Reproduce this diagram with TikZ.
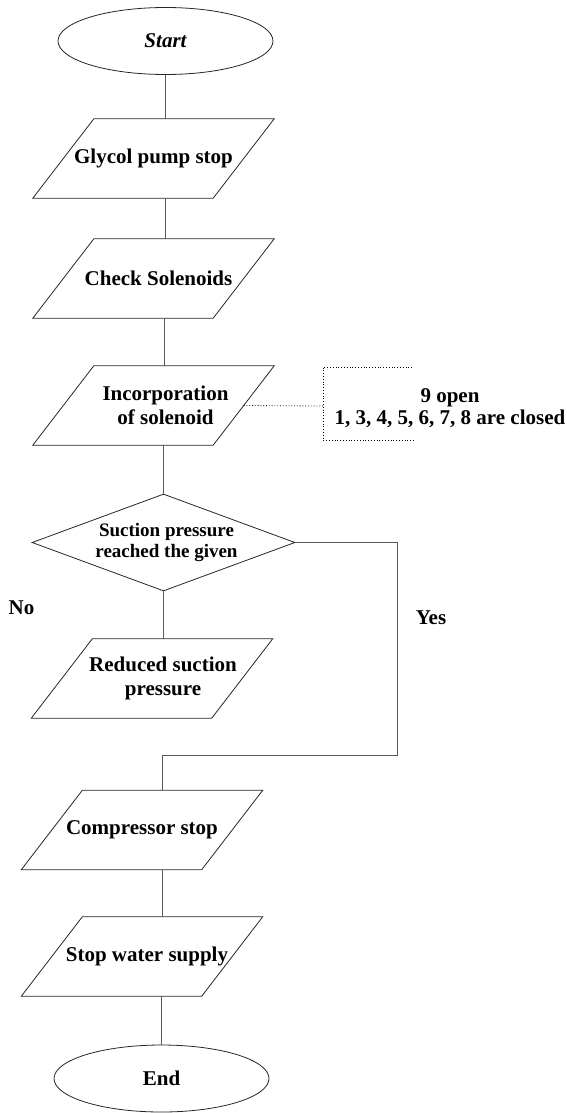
\documentclass[tikz,border=0pt]{standalone}
\usepackage{fontspec}
\setmainfont{Liberation Serif}
\usetikzlibrary{shapes.geometric}
\begin{document}
\begin{tikzpicture}[x=1pt,y=-1pt,
  shapeline/.style={draw=black!85, line width=0.8pt},
  io/.style={rectangle, draw=none, minimum width=180pt, minimum height=79pt, inner sep=0pt},
  term/.style={shapeline, ellipse, minimum width=215pt, minimum height=67pt, inner sep=0pt,
    font=\fontsize{21}{24}\selectfont\bfseries},
  decision/.style={shapeline, diamond, minimum width=263pt, minimum height=97pt, inner sep=0.5pt},
  iotext/.style={font=\fontsize{21}{24}\selectfont\bfseries, align=center, inner sep=0pt},
  dectext/.style={font=\fontsize{19}{21}\selectfont\bfseries, align=center, inner sep=0pt},
  notetext/.style={font=\fontsize{21}{22}\selectfont\bfseries, align=center, inner sep=0pt},
  lbl/.style={font=\fontsize{21}{24}\selectfont\bfseries, inner sep=0pt},
  conn/.style={draw=black!65, line width=1pt},
  notedash/.style={dotted, line width=0.8pt, draw=black}
]
\useasboundingbox (0,0) rectangle (567,1113);

\node[term] (start) at (165.5,41) {\itshape Start};
\node[io, label={[iotext]center:{Glycol pump stop}}] (g) at (153.5,158.5) {};
\node[io, label={[iotext,xshift=5pt]center:{Check Solenoids}}] (c) at (153.5,278.5) {};
\node[io, label={[iotext,xshift=12pt]center:{Incorporation\\of solenoid}}] (inc) at (153.5,405.5) {};
\node[decision, label={[dectext,xshift=3pt]center:{Suction pressure\\reached the given}}] (d) at (163.5,542.5) {};
\node[io, label={[iotext,xshift=11pt]center:{Reduced suction\\pressure}}] (r) at (152,678.5) {};
\node[io, label={[iotext]center:{Compressor stop}}] (comp) at (142,830) {};
\node[io, label={[iotext,xshift=5pt]center:{Stop water supply}}] (w) at (142,956.5) {};
\node[term] (end) at (161.5,1078.5) {End};

% parallelogram outlines of the io nodes
\foreach \n in {g,c,inc,r,comp,w}
  \draw[shapeline] ([xshift=30.5pt]\n.north west) -- ([xshift=30.5pt]\n.north east)
    -- ([xshift=-30.5pt]\n.south east) -- ([xshift=-30.5pt]\n.south west) -- cycle;

\node[lbl] (no) at (21.5,608) {No};
\node[lbl] (yes) at (431,618) {Yes};
\node[notetext] (note) at (450,408.5) {9 open\\1, 3, 4, 5, 6, 7, 8 are closed};

% connectors
\draw[conn] (start.south) -- (start.south |- g.north);
\draw[conn] ([xshift=11.5pt]g.south) -- ([xshift=11.5pt]c.north);
\draw[conn] ([xshift=10.5pt]c.south) -- ([xshift=10.5pt]inc.north);
\draw[conn] (d.north |- inc.south) -- (d.north);
\draw[conn] (d.south) -- (d.south |- r.north);
\coordinate (ycorner) at (397,755);
\draw[conn] (d.east) -| (ycorner) -| ([xshift=20pt]comp.north);
\draw[conn] ([xshift=20pt]comp.south) -- ([xshift=20pt]w.north);
\draw[conn] (end.north |- w.south) -- (end.north);

% annotation bracket
\coordinate (nt) at (412,367);
\coordinate (nb) at (415,440);
\coordinate (nv) at (323,406);
\draw[notedash] (inc.east) -- (nv);
\draw[notedash] (nt) -- (nt -| nv) -- (nb -| nv) -- (nb);
\end{tikzpicture}
\end{document}
